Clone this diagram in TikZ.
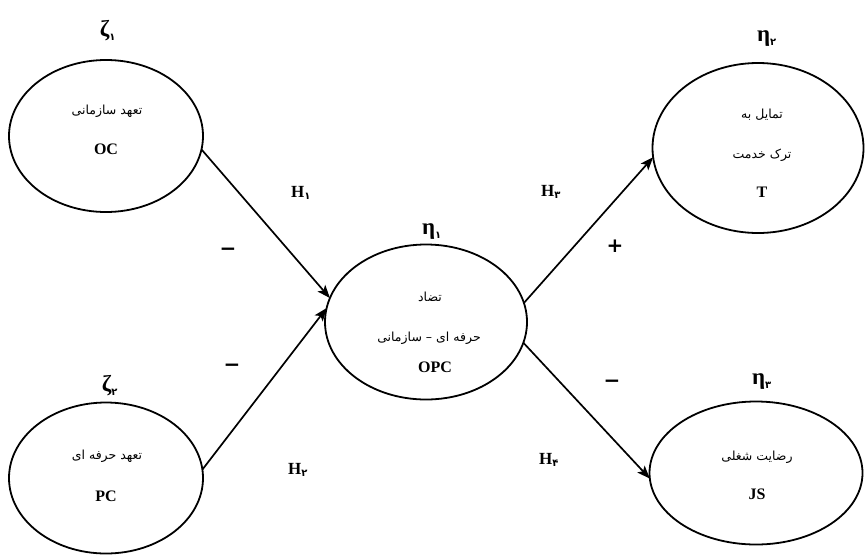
\documentclass[tikz,border=0pt]{standalone}
\usepackage{fontspec}
\setmainfont{Liberation Serif}
\newfontfamily\arabicfont[Script=Arabic]{DejaVu Sans}
\newfontfamily\digitfont{DejaVu Sans}
\newfontfamily\signfont{DejaVu Sans}
\TeXXeTstate=1
\usetikzlibrary{arrows.meta,shapes.geometric}
\begin{document}
\begin{tikzpicture}[x=1pt,y=-1pt,
  latent/.style={draw, ellipse, line width=1.8pt, inner sep=0pt, outer sep=0pt},
  path/.style={line width=1.7pt, -{Stealth[length=13pt,width=10pt,inset=3pt]}},
  fa/.style={font=\arabicfont\fontsize{12.5}{14}\selectfont, inner sep=0pt},
  abbr/.style={font=\bfseries\fontsize{16}{18}\selectfont, inner sep=0pt},
  greek/.style={font=\bfseries\fontsize{23}{26}\selectfont, inner sep=0pt},
  hyp/.style={font=\bfseries\fontsize{17}{20}\selectfont, inner sep=0pt},
  sign/.style={font=\signfont\bfseries\fontsize{20}{22}\selectfont, inner sep=0pt}]
\useasboundingbox (0,0) rectangle (866,555);
\newcommand{\pdig}[1]{\ensuremath{_{\hbox{\digitfont\bfseries\fontsize{10}{11}\selectfont #1}}}}

% ellipses
\node[latent, minimum width=194pt, minimum height=152pt] (oc) at (106,136) {};
\node[latent, minimum width=194pt, minimum height=151pt] (pc) at (106,478) {};
\node[latent, minimum width=202pt, minimum height=155pt] (opc) at (426,322) {};
\node[latent, minimum width=211pt, minimum height=170pt] (t) at (758,148) {};
\node[latent, minimum width=213pt, minimum height=143pt] (js) at (756,473) {};

% texts inside
\node[fa] (ocfa) at (107,111) {\beginR تعهد سازمانی\endR};
\node[abbr] (ocab) at (106,149) {OC};
\node[fa] (pcfa) at (107,456) {\beginR تعهد حرفه ای\endR};
\node[abbr] (pcab) at (106,496) {PC};
\node[fa] (opcfa1) at (430,297) {\beginR تضاد\endR};
\node[fa] (opcfa2) at (429,338) {\beginR حرفه ای – سازمانی\endR};
\node[abbr] (opcab) at (435,367) {OPC};
\node[fa] (tfa1) at (762,115) {\beginR تمایل به\endR};
\node[fa] (tfa2) at (762,155) {\beginR ترک خدمت\endR};
\node[abbr] (tab) at (762,192) {T};
\node[fa] (jsfa) at (757,457) {\beginR رضایت شغلی\endR};
\node[abbr] (jsab) at (757,494) {JS};

% latent symbols
\node[greek] (z1) at (108,31) {ζ\pdig{۱}};
\node[greek] (z2) at (110,386) {ζ\pdig{۲}};
\node[greek] (e1) at (432,232) {η\pdig{۱}};
\node[greek] (e2) at (767,39) {η\pdig{۲}};
\node[greek] (e3) at (762,382) {η\pdig{۳}};

% paths
\draw[path] (oc.-8) -- (opc.166);
\draw[path] (pc.5) -- (opc.172);
\draw[path] (opc.11) -- (t.185);
\draw[path] (opc.-12) -- (js.183);

% hypothesis labels
\node[hyp] (h1) at (301,193) {H\pdig{۱}};
\node[hyp] (h2) at (298,470) {H\pdig{۲}};
\node[hyp] (h3) at (551,192) {H\pdig{۳}};
\node[hyp] (h4) at (549,460) {H\pdig{۴}};

% signs
\node[sign] (s1) at (228,252) {−};
\node[sign] (s2) at (232,368) {−};
\node[sign] (s3) at (615,246) {+};
\node[sign] (s4) at (612,384) {−};
\end{tikzpicture}
\end{document}
